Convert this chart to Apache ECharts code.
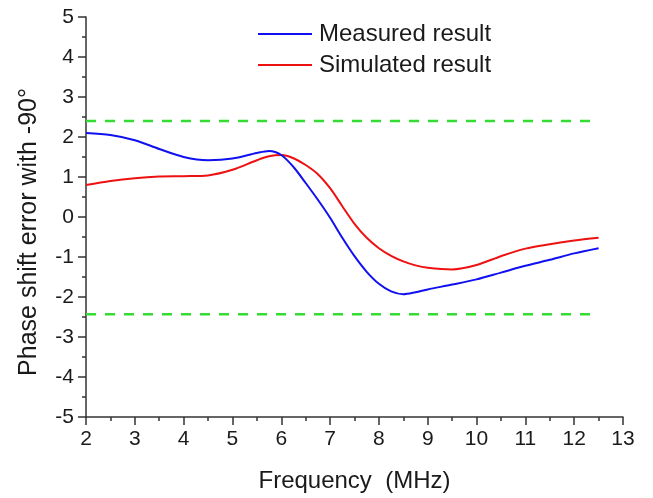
<!DOCTYPE html>
<html>
<head>
<meta charset="utf-8">
<script src="https://cdn.jsdelivr.net/npm/echarts@6/dist/echarts.min.js"></script>
<style>html,body{margin:0;padding:0;background:#fff}#c{width:653px;height:498px}</style>
</head>
<body>
<div id="c"></div>
<script>
const freq = [2, 2.5, 3, 3.5, 4, 4.5, 5, 5.5, 5.75, 6, 6.25, 6.5, 6.75, 7, 7.25, 7.5, 7.75, 8, 8.25, 8.5, 8.75, 9, 9.5, 10, 10.5, 11, 11.5, 12, 12.5];
const measured = [2.10, 2.05, 1.92, 1.70, 1.50, 1.42, 1.46, 1.60, 1.65, 1.55, 1.25, 0.85, 0.43, -0.02, -0.52, -0.98, -1.37, -1.67, -1.86, -1.93, -1.88, -1.81, -1.69, -1.56, -1.39, -1.22, -1.07, -0.91, -0.78];
const simulated = [0.80, 0.90, 0.97, 1.01, 1.02, 1.04, 1.18, 1.42, 1.52, 1.55, 1.47, 1.30, 1.07, 0.72, 0.27, -0.17, -0.52, -0.78, -0.97, -1.11, -1.21, -1.27, -1.31, -1.20, -0.98, -0.79, -0.68, -0.59, -0.52];
const limitFreq = [2, 12.5];
const upperLimit = [2.4, 2.4];
const lowerLimit = [-2.43, -2.43];
const seriesNames = ['Measured result', 'Simulated result'];

const pair = (xs, ys) => xs.map((x, i) => [x, ys[i]]);
const font = 'Liberation Sans, Arial, sans-serif';
const axisCommon = {
  axisLine: { show: true, onZero: false, lineStyle: { color: '#333', width: 1.5 } },
  axisTick: { show: true, length: 8, lineStyle: { color: '#333', width: 1.5 } },
  minorTick: { show: true, splitNumber: 2, length: 4, lineStyle: { color: '#333', width: 1.5 } },
  splitLine: { show: false },
  axisLabel: { fontFamily: font, fontSize: 21, color: '#1a1a1a', margin: 12 }
};
const chart = echarts.init(document.getElementById('c'));
chart.setOption({
  animation: false,
  backgroundColor: '#fff',
  grid: { left: 86, right: 30, top: 17, bottom: 79 },
  legend: {
    data: seriesNames,
    orient: 'vertical',
    left: 253, top: 17,
    icon: 'rect',
    itemWidth: 54, itemHeight: 2, itemGap: 7,
    textStyle: { fontFamily: font, fontSize: 24, color: '#1a1a1a', padding: [0,0,0,2] }
  },
  xAxis: Object.assign({
    type: 'value', min: 2, max: 13, interval: 1,
    name: 'Frequency  (MHz)', nameLocation: 'middle', nameGap: 52,
    nameTextStyle: { fontFamily: font, fontSize: 24, color: '#1a1a1a' }
  }, axisCommon),
  yAxis: Object.assign({
    type: 'value', min: -5, max: 5, interval: 1,
    name: 'Phase shift error with -90°', nameLocation: 'middle', nameGap: 44,
    nameTextStyle: { fontFamily: font, fontSize: 25, color: '#1a1a1a', padding: [0, 30, 0, 0] }
  }, axisCommon),
  series: [
    { name: seriesNames[0], type: 'line', data: pair(freq, measured), smooth: 0.3, symbol: 'none',
      lineStyle: { color: '#1010f0', width: 2 }, itemStyle: { color: '#1010f0' }, z: 3 },
    { name: seriesNames[1], type: 'line', data: pair(freq, simulated), smooth: 0.3, symbol: 'none',
      lineStyle: { color: '#ee1111', width: 2 }, itemStyle: { color: '#ee1111' }, z: 2 },
    { name: 'upper', type: 'line', data: pair(limitFreq, upperLimit), symbol: 'none', silent: true,
      lineStyle: { color: '#33dd33', width: 2.5, type: [10, 9] } },
    { name: 'lower', type: 'line', data: pair(limitFreq, lowerLimit), symbol: 'none', silent: true,
      lineStyle: { color: '#33dd33', width: 2.5, type: [10, 9] } }
  ]
});
</script>
</body>
</html>
